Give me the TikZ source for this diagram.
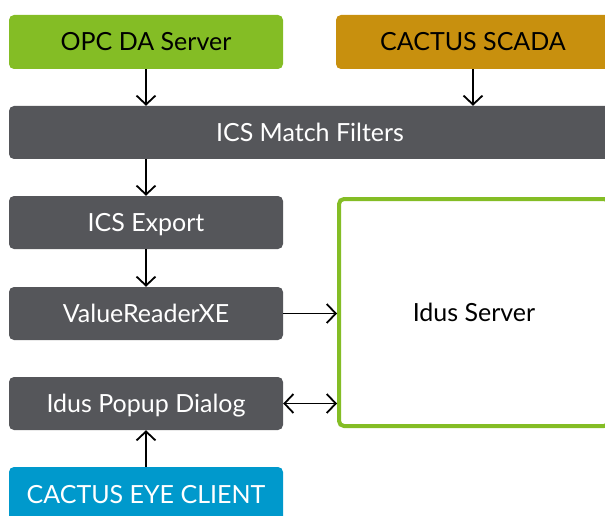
\documentclass[tikz,border=0pt]{standalone}
\usepackage{fontspec}
\setmainfont{Lato}
\usetikzlibrary{arrows.meta}
\definecolor{cgreen}{RGB}{132,189,37}
\definecolor{cgold}{RGB}{200,144,14}
\definecolor{cgray}{RGB}{85,86,90}
\definecolor{cblue}{RGB}{0,153,204}
\begin{document}
\begin{tikzpicture}[x=1pt,y=-1pt,
  box/.style={rectangle,rounded corners=5pt,minimum width=274pt,minimum height=53pt,
    inner sep=0pt,text height=18pt,text depth=0pt,font=\fontsize{25}{30}\selectfont},
  darkbox/.style={box,fill=cgray,text=white},
  arr/.style={line width=1.8pt,-{Straight Barb[length=9pt,width=19pt,line width=1.8pt]}},
  darr/.style={line width=1.8pt,{Straight Barb[length=9pt,width=19pt,line width=1.8pt]}-{Straight Barb[length=9pt,width=19pt,line width=1.8pt]}},
]
\useasboundingbox (0,0) rectangle (605,516);
\clip (0,0) rectangle (605,516);
\node[box,fill=cgreen,text=black,minimum height=54pt] (opc) at (146,42) {OPC DA Server};
\node[box,fill=cgold,text=black,minimum height=54pt] (scada) at (473,42) {CACTUS SCADA};
\node[darkbox,minimum width=602pt] (match) at (310,132.5) {ICS Match Filters};
\node[darkbox] (export) at (146,222.5) {ICS Export};
\node[darkbox] (vr) at (146,313.5) {ValueReaderXE};
\node[darkbox] (popup) at (146,403.5) {Idus Popup Dialog};
\node[box,fill=cblue,text=white,minimum height=54pt] (eye) at (146,494) {CACTUS EYE CLIENT};
\node[box,draw=cgreen,line width=4pt,fill=white,text=black,minimum width=270pt,minimum height=227pt] (server) at (474,312.5) {Idus Server};
\draw[arr] (opc.south) -- (opc.south|-match.north);
\draw[arr] (scada.south) -- (scada.south|-match.north);
\draw[arr] (export.north|-match.south) -- (export.north);
\draw[arr] (export.south) -- (vr.north);
\draw[arr] (vr.east) -- (vr.east-|server.west);
\draw[darr] (popup.east) -- (popup.east-|server.west);
\draw[arr] (eye.north) -- (popup.south);
\end{tikzpicture}
\end{document}
